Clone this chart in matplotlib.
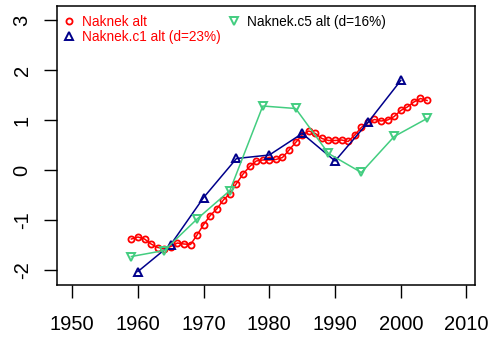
import numpy as np
import matplotlib.pyplot as plt

plt.rcParams['font.family'] = ['Liberation Sans', 'DejaVu Sans']

# yearly series
years_alt = np.arange(1959, 2005)
naknek_alt = [-1.38, -1.34, -1.38, -1.48, -1.55, -1.57, -1.53, -1.46, -1.48, -1.49,
              -1.30, -1.09, -0.91, -0.78, -0.60, -0.47, -0.27, -0.08, 0.07, 0.18,
              0.20, 0.20, 0.21, 0.25, 0.40, 0.55, 0.70, 0.78, 0.73, 0.63,
              0.59, 0.59, 0.60, 0.57, 0.70, 0.85, 0.95, 1.01, 0.98, 1.00,
              1.07, 1.19, 1.26, 1.36, 1.43, 1.39]

# 5-year series
years_c1 = [1960, 1965, 1970, 1975, 1980, 1985, 1990, 1995, 2000]
naknek_c1 = [-2.03, -1.49, -0.55, 0.23, 0.30, 0.73, 0.18, 0.95, 1.79]

years_c5 = [1959, 1964, 1969, 1974, 1979, 1984, 1989, 1994, 1999, 2004]
naknek_c5 = [-1.73, -1.61, -0.98, -0.41, 1.28, 1.23, 0.33, -0.05, 0.67, 1.03]

labels = ["Naknek alt", "Naknek.c1 alt (d=23%)", "Naknek.c5 alt (d=16%)"]
label_colors = ["#FF0000", "#FF0000", "black"]

xticks = [1950, 1960, 1970, 1980, 1990, 2000, 2010]
yticks = [-2, -1, 0, 1, 2, 3]

red = "#FF0000"
blue = "#00008B"
green = "#43CD80"

fig = plt.figure(figsize=(5.02, 3.37), dpi=100)
ax = fig.add_axes([0.1129, 0.1543, 0.8333, 0.8279])

ax.plot(years_alt, naknek_alt, color=red, lw=1.1, marker="o", ms=4.4,
        mfc="none", mec=red, mew=1.3, label=labels[0])
ax.plot(years_c1, naknek_c1, color=blue, lw=1.1, marker="^", ms=5.6,
        mfc="none", mec=blue, mew=1.4, label=labels[1])
ax.plot(years_c5, naknek_c5, color=green, lw=1.1, marker="v", ms=5.6,
        mfc="none", mec=green, mew=1.4, label=labels[2])

ax.set_xlim(1947.63, 2011.3)
ax.set_ylim(-2.3, 3.28)
ax.set_xticks(xticks)
ax.set_yticks(yticks)
ax.set_xticklabels([str(x) for x in xticks])
ax.set_yticklabels([str(y) for y in yticks])

for sp in ax.spines.values():
    sp.set_linewidth(1.1)
ax.tick_params(axis="both", length=9.5, width=1.0, labelsize=14.5, color="black")
ax.tick_params(axis="x", pad=12)
ax.tick_params(axis="y", pad=8.5, labelrotation=90)
for t in ax.get_yticklabels():
    t.set_va("center")

leg = ax.legend(loc="upper left", bbox_to_anchor=(0.0131, 0.9677), ncol=2,
                frameon=False, fontsize=9.8, borderpad=0, borderaxespad=0,
                handlelength=1.0, handletextpad=0.46, columnspacing=0.46,
                labelspacing=0.05, numpoints=1)
for line in leg.get_lines():
    line.set_linestyle("none")
for t, c in zip(leg.get_texts(), label_colors):
    t.set_color(c)

plt.savefig("out.png", dpi=100)
